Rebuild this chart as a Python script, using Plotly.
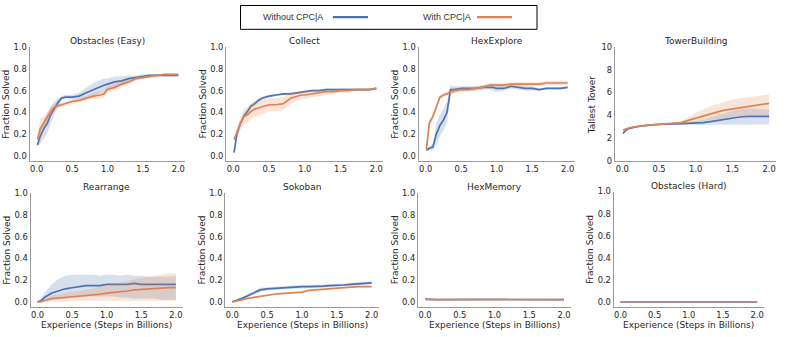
import plotly.graph_objects as go

# ---------------- data ----------------
X_TOP = [0.01, 0.05, 0.1, 0.15, 0.2, 0.25, 0.3, 0.35, 0.4, 0.5, 0.6, 0.7, 0.8, 0.9, 0.95,
         1.0, 1.1, 1.2, 1.3, 1.4, 1.5, 1.6, 1.7, 1.8, 1.9, 2.0]
X_BOT = [0.0, 0.05, 0.1, 0.15, 0.2, 0.3, 0.4, 0.5, 0.6, 0.7, 0.8, 0.9, 1.0, 1.1, 1.2,
         1.3, 1.4, 1.5, 1.6, 1.7, 1.8, 1.9, 2.0]

# Obstacles (Easy)
obs_easy_without = [0.10, 0.18, 0.25, 0.30, 0.38, 0.44, 0.49, 0.53, 0.54, 0.54, 0.55, 0.58, 0.61,
                    0.64, 0.65, 0.66, 0.68, 0.69, 0.71, 0.72, 0.73, 0.74, 0.74, 0.74, 0.74, 0.74]
obs_easy_without_sd = [0.02, 0.06, 0.09, 0.09, 0.08, 0.06, 0.04, 0.02, 0.02, 0.02, 0.03, 0.05, 0.06,
                       0.06, 0.06, 0.05, 0.05, 0.04, 0.03, 0.02, 0.02, 0.01, 0.01, 0.01, 0.01, 0.01]
obs_easy_with = [0.15, 0.25, 0.30, 0.36, 0.41, 0.45, 0.46, 0.47, 0.48, 0.50, 0.51, 0.53, 0.55,
                 0.56, 0.57, 0.61, 0.63, 0.66, 0.68, 0.71, 0.72, 0.73, 0.74, 0.75, 0.75, 0.75]
obs_easy_with_sd = [0.02, 0.10, 0.06, 0.05, 0.04, 0.03, 0.02, 0.02, 0.02, 0.02, 0.02, 0.02, 0.03,
                    0.03, 0.03, 0.03, 0.03, 0.03, 0.02, 0.02, 0.01, 0.01, 0.01, 0.01, 0.01, 0.01]

# Collect
collect_without = [0.03, 0.20, 0.30, 0.37, 0.41, 0.46, 0.48, 0.51, 0.53, 0.55, 0.56, 0.57, 0.57,
                   0.58, 0.59, 0.59, 0.60, 0.60, 0.61, 0.61, 0.61, 0.61, 0.61, 0.61, 0.61, 0.62]
collect_without_sd = [0.01, 0.03, 0.02, 0.02, 0.02, 0.02, 0.02, 0.02, 0.01, 0.01, 0.01, 0.01, 0.01,
                      0.01, 0.01, 0.01, 0.01, 0.01, 0.01, 0.01, 0.01, 0.01, 0.01, 0.01, 0.01, 0.01]
collect_with = [0.15, 0.22, 0.30, 0.36, 0.38, 0.41, 0.43, 0.44, 0.45, 0.47, 0.47, 0.48, 0.53,
                0.55, 0.56, 0.56, 0.57, 0.58, 0.59, 0.59, 0.60, 0.60, 0.61, 0.61, 0.61, 0.62]
collect_with_sd = [0.02, 0.04, 0.06, 0.07, 0.07, 0.07, 0.07, 0.07, 0.07, 0.06, 0.06, 0.06, 0.05,
                   0.04, 0.04, 0.04, 0.03, 0.03, 0.03, 0.02, 0.02, 0.02, 0.01, 0.01, 0.01, 0.01]

# HexExplore
hex_without = [0.05, 0.07, 0.08, 0.20, 0.28, 0.33, 0.40, 0.61, 0.61, 0.62, 0.62, 0.62, 0.63,
               0.63, 0.63, 0.62, 0.62, 0.64, 0.63, 0.62, 0.62, 0.61, 0.62, 0.62, 0.62, 0.63]
hex_without_sd = [0.01, 0.02, 0.03, 0.10, 0.10, 0.10, 0.10, 0.04, 0.03, 0.02, 0.02, 0.02, 0.02,
                  0.02, 0.03, 0.03, 0.02, 0.02, 0.02, 0.02, 0.02, 0.01, 0.01, 0.01, 0.01, 0.01]
hex_with = [0.06, 0.30, 0.36, 0.45, 0.54, 0.56, 0.57, 0.59, 0.60, 0.61, 0.61, 0.62, 0.63,
            0.65, 0.65, 0.65, 0.65, 0.66, 0.66, 0.66, 0.66, 0.66, 0.67, 0.67, 0.67, 0.67]
hex_with_sd = [0.01, 0.03, 0.03, 0.03, 0.02, 0.02, 0.02, 0.02, 0.02, 0.02, 0.02, 0.02, 0.02,
               0.02, 0.02, 0.02, 0.02, 0.02, 0.02, 0.02, 0.02, 0.02, 0.02, 0.02, 0.02, 0.02]

# TowerBuilding (asymmetric bands)
tower_without = [2.4, 2.7, 2.85, 2.95, 3.0, 3.05, 3.1, 3.12, 3.15, 3.2, 3.25, 3.25, 3.27,
                 3.3, 3.3, 3.32, 3.35, 3.45, 3.55, 3.7, 3.8, 3.85, 3.9, 3.9, 3.9, 3.9]
tower_without_hi = [2.5, 2.8, 2.95, 3.0, 3.05, 3.1, 3.15, 3.17, 3.2, 3.25, 3.3, 3.3, 3.35,
                    3.4, 3.45, 3.5, 3.6, 3.8, 4.0, 4.2, 4.4, 4.5, 4.6, 4.6, 4.5, 4.5]
tower_without_lo = [2.3, 2.6, 2.75, 2.9, 2.95, 3.0, 3.05, 3.07, 3.1, 3.15, 3.2, 3.2, 3.2,
                    3.2, 3.2, 3.2, 3.15, 3.15, 3.15, 3.2, 3.2, 3.2, 3.2, 3.2, 3.2, 3.2]
tower_with = [2.7, 2.8, 2.9, 2.97, 3.02, 3.06, 3.1, 3.13, 3.15, 3.2, 3.25, 3.27, 3.35,
              3.55, 3.65, 3.75, 3.95, 4.15, 4.3, 4.45, 4.55, 4.65, 4.8, 4.9, 4.95, 5.05]
tower_with_hi = [2.8, 2.9, 3.0, 3.05, 3.1, 3.13, 3.17, 3.2, 3.22, 3.27, 3.3, 3.35, 3.5,
                 3.8, 4.0, 4.2, 4.5, 4.8, 5.0, 5.2, 5.4, 5.5, 5.6, 5.7, 5.75, 5.8]
tower_with_lo = [2.6, 2.7, 2.8, 2.9, 2.95, 3.0, 3.03, 3.06, 3.08, 3.13, 3.2, 3.2, 3.2,
                 3.3, 3.35, 3.4, 3.5, 3.6, 3.7, 3.75, 3.8, 3.85, 3.9, 4.0, 4.0, 4.0]

# Rearrange
rearr_without = [0.0, 0.01, 0.04, 0.06, 0.08, 0.10, 0.12, 0.13, 0.14, 0.15, 0.15, 0.15, 0.16,
                 0.16, 0.16, 0.16, 0.17, 0.16, 0.16, 0.16, 0.16, 0.16, 0.16]
rearr_without_hi = [0.0, 0.03, 0.08, 0.12, 0.16, 0.21, 0.24, 0.25, 0.25, 0.25, 0.25, 0.24, 0.25,
                    0.25, 0.24, 0.25, 0.24, 0.24, 0.23, 0.23, 0.23, 0.23, 0.24]
rearr_without_lo = [0.0, 0.0, 0.01, 0.01, 0.02, 0.03, 0.04, 0.05, 0.05, 0.05, 0.05, 0.05, 0.05,
                    0.05, 0.04, 0.04, 0.03, 0.03, 0.03, 0.03, 0.02, 0.02, 0.02]
rearr_with = [0.0, 0.0, 0.01, 0.02, 0.03, 0.035, 0.04, 0.045, 0.05, 0.055, 0.06, 0.07, 0.08,
              0.085, 0.09, 0.10, 0.11, 0.115, 0.12, 0.125, 0.13, 0.13, 0.13]
rearr_with_hi = [0.0, 0.01, 0.02, 0.04, 0.06, 0.07, 0.08, 0.09, 0.10, 0.11, 0.12, 0.14, 0.16,
                 0.17, 0.18, 0.19, 0.21, 0.22, 0.23, 0.24, 0.25, 0.26, 0.26]
rearr_with_lo = [0.0, 0.0, 0.0, 0.0, 0.0, 0.0, 0.0, 0.01, 0.01, 0.01, 0.01, 0.01, 0.01,
                 0.01, 0.01, 0.01, 0.01, 0.01, 0.01, 0.01, 0.01, 0.01, 0.01]

# Sokoban
sok_without = [0.0, 0.01, 0.02, 0.035, 0.05, 0.08, 0.11, 0.12, 0.125, 0.13, 0.13, 0.135, 0.14,
               0.14, 0.14, 0.145, 0.15, 0.15, 0.155, 0.16, 0.165, 0.17, 0.175]
sok_without_sd = [0.0, 0.005, 0.01, 0.01, 0.015, 0.015, 0.02, 0.015, 0.015, 0.015, 0.015, 0.015,
                  0.015, 0.015, 0.015, 0.015, 0.015, 0.015, 0.015, 0.015, 0.015, 0.015, 0.015]
sok_with = [0.0, 0.005, 0.01, 0.02, 0.03, 0.04, 0.055, 0.065, 0.07, 0.075, 0.08, 0.085, 0.09,
            0.105, 0.11, 0.12, 0.125, 0.13, 0.135, 0.137, 0.14, 0.14, 0.14]
sok_with_sd = [0.0, 0.003, 0.005, 0.005, 0.005, 0.005, 0.005, 0.005, 0.005, 0.005, 0.005, 0.005,
               0.005, 0.005, 0.005, 0.005, 0.005, 0.005, 0.005, 0.005, 0.005, 0.005, 0.005]

# HexMemory
hexmem_without = [0.025, 0.022, 0.021, 0.021, 0.021, 0.022, 0.022, 0.022, 0.022, 0.021, 0.021, 0.022, 0.023,
                  0.022, 0.021, 0.021, 0.022, 0.022, 0.021, 0.021, 0.021, 0.021, 0.021]
hexmem_with = [0.022, 0.02, 0.019, 0.019, 0.02, 0.02, 0.02, 0.02, 0.02, 0.02, 0.02, 0.02, 0.02,
               0.02, 0.02, 0.02, 0.02, 0.02, 0.02, 0.02, 0.02, 0.02, 0.021]
hexmem_sd = [0.003] * 23

# Obstacles (Hard)
obs_hard_without = [0.0] * 23
obs_hard_with = [0.001] * 23
obs_hard_sd = [0.002] * 23

TITLES = ["Obstacles (Easy)", "Collect", "HexExplore", "TowerBuilding",
          "Rearrange", "Sokoban", "HexMemory", "Obstacles (Hard)"]
Y_LABELS = ["Fraction Solved", "Fraction Solved", "Fraction Solved", "Tallest Tower",
            "Fraction Solved", "Fraction Solved", "Fraction Solved", "Fraction Solved"]
X_LABEL = "Experience (Steps in Billions)"
SERIES_NAMES = ["Without CPC|A", "With CPC|A"]
X_TICKS = [0.0, 0.5, 1.0, 1.5, 2.0]
FRAC_TICKS = [0.0, 0.2, 0.4, 0.6, 0.8, 1.0]
TOWER_TICKS = [0, 2, 4, 6, 8, 10]


def band(mean, sd):
    return [m - s for m, s in zip(mean, sd)], [m + s for m, s in zip(mean, sd)]


panels_data = [
    (X_TOP, (obs_easy_without, *band(obs_easy_without, obs_easy_without_sd)),
            (obs_easy_with, *band(obs_easy_with, obs_easy_with_sd))),
    (X_TOP, (collect_without, *band(collect_without, collect_without_sd)),
            (collect_with, *band(collect_with, collect_with_sd))),
    (X_TOP, (hex_without, *band(hex_without, hex_without_sd)),
            (hex_with, *band(hex_with, hex_with_sd))),
    (X_TOP, (tower_without, tower_without_lo, tower_without_hi),
            (tower_with, tower_with_lo, tower_with_hi)),
    (X_BOT, (rearr_without, rearr_without_lo, rearr_without_hi),
            (rearr_with, rearr_with_lo, rearr_with_hi)),
    (X_BOT, (sok_without, *band(sok_without, sok_without_sd)),
            (sok_with, *band(sok_with, sok_with_sd))),
    (X_BOT, (hexmem_without, *band(hexmem_without, hexmem_sd)),
            (hexmem_with, *band(hexmem_with, hexmem_sd))),
    (X_BOT, (obs_hard_without, *band(obs_hard_without, obs_hard_sd)),
            (obs_hard_with, *band(obs_hard_with, obs_hard_sd))),
]

# ---------------- layout geometry (pixels) ----------------
W, H = 789, 337
# (pixel of x=0, px per unit, pixel top, pixel bottom, pixel of y=0)
geom = [
    (36.7, 70.8, 43.3, 160.6, 155.0),
    (233.3, 71.5, 43.3, 160.6, 155.0),
    (425.7, 71.0, 43.3, 160.6, 155.0),
    (622.3, 73.4, 43.3, 160.6, 160.0),
    (37.5, 69.2, 193.3, 310.6, 305.0),
    (232.3, 69.7, 193.3, 310.6, 305.0),
    (425.0, 69.5, 193.3, 310.6, 305.0),
    (620.5, 68.3, 191.7, 310.6, 305.0),
]
XR = (-0.1, 2.1)

BLUE = "#4C72B0"
ORANGE = "#DD8452"
FILLS = ["rgba(76,114,176,0.22)", "rgba(221,132,82,0.22)"]
COLORS = [BLUE, ORANGE]
TXT = "#262626"
SPINE = "#9a9a9a"
FONT = "DejaVu Sans"
TICK_FS = 8.3
LAB_FS = 9

fig = go.Figure()
annotations = []
shapes = []

for i, (g, (xs, s_wo, s_w)) in enumerate(zip(geom, panels_data), start=1):
    px0, u, top, bot, py0 = g
    left = px0 + XR[0] * u
    right = px0 + XR[1] * u
    xd = [left / W, right / W]
    yd = [1 - bot / H, 1 - top / H]
    xk = "x" if i == 1 else f"x{i}"
    yk = "y" if i == 1 else f"y{i}"
    xa = "xaxis" if i == 1 else f"xaxis{i}"
    ya = "yaxis" if i == 1 else f"yaxis{i}"
    is_tower = TITLES[i - 1] == "TowerBuilding"
    ymax = 10.0 if is_tower else 1.0
    yunit = (py0 - top) / ymax
    yr = [-(bot - py0) / yunit, ymax]
    yticks = TOWER_TICKS if is_tower else FRAC_TICKS
    ytf = "d" if is_tower else ".1f"
    fig.update_layout(**{
        xa: dict(domain=xd, range=list(XR), anchor=yk, showgrid=False, zeroline=False,
                 showline=True, linecolor=SPINE, linewidth=1.3, ticks="",
                 tickvals=X_TICKS, tickformat=".1f",
                 tickfont=dict(family=FONT, size=TICK_FS, color=TXT)),
        ya: dict(domain=yd, range=yr, anchor=xk, showgrid=False, zeroline=False,
                 showline=True, linecolor=SPINE, linewidth=1.3, ticks="",
                 tickvals=yticks, tickformat=ytf,
                 tickfont=dict(family=FONT, size=TICK_FS, color=TXT)),
    })
    for j, (mean, lo, hi) in enumerate([s_wo, s_w]):
        fig.add_trace(go.Scatter(
            x=list(xs) + list(xs)[::-1], y=list(hi) + list(lo)[::-1],
            fill="toself", fillcolor=FILLS[j], line=dict(width=0),
            mode="lines", hoverinfo="skip", showlegend=False, xaxis=xk, yaxis=yk))
        fig.add_trace(go.Scatter(
            x=xs, y=mean, mode="lines", line=dict(color=COLORS[j], width=1.7),
            name=SERIES_NAMES[j], showlegend=False, xaxis=xk, yaxis=yk))
    # title
    annotations.append(dict(text=TITLES[i - 1], x=(left + right) / 2 / W, y=1 - (top - 6) / H,
                            xref="paper", yref="paper", showarrow=False,
                            xanchor="center", yanchor="middle",
                            font=dict(family=FONT, size=LAB_FS, color=TXT)))
    # y label
    annotations.append(dict(text=Y_LABELS[i - 1], x=(left - 23) / W, y=1 - (top + bot) / 2 / H,
                            xref="paper", yref="paper", showarrow=False, textangle=-90,
                            xanchor="center", yanchor="middle",
                            font=dict(family=FONT, size=LAB_FS, color=TXT)))
    if i > 4:
        annotations.append(dict(text=X_LABEL, x=(left + right) / 2 / W, y=1 - 328.5 / H,
                                xref="paper", yref="paper", showarrow=False,
                                xanchor="center", yanchor="middle",
                                font=dict(family=FONT, size=LAB_FS, color=TXT)))

# legend (text then line sample, in a framed box)
shapes.append(dict(type="rect", xref="paper", yref="paper",
                   x0=240.5 / W, x1=537 / W, y0=1 - 25 / H, y1=1 - 0.5 / H,
                   line=dict(color="black", width=1), fillcolor="white"))
leg_items = [(261, 333, 368), (421, 477, 512)]
for (tx, l0, l1), name, col in zip(leg_items, SERIES_NAMES, COLORS):
    annotations.append(dict(text=name, x=tx / W, y=1 - 12.5 / H, xref="paper", yref="paper",
                            showarrow=False, xanchor="left", yanchor="middle",
                            font=dict(family="Liberation Sans", size=9, color="#333333")))
    shapes.append(dict(type="line", xref="paper", yref="paper",
                       x0=l0 / W, x1=l1 / W, y0=1 - 12.5 / H, y1=1 - 12.5 / H,
                       line=dict(color=col, width=2.2)))

fig.update_layout(width=W, height=H, margin=dict(l=0, r=0, t=0, b=0),
                  paper_bgcolor="white", plot_bgcolor="white",
                  annotations=annotations, shapes=shapes, showlegend=False)

post = ("document.documentElement.style.margin='0';"
        "document.body.style.margin='0';document.body.style.overflow='hidden';"
        "var d=document.getElementById('{plot_id}');"
        "d.style.position='fixed';d.style.top='0px';d.style.left='0px';")
fig.write_html("out.html", config={"displayModeBar": False}, post_script=post)
